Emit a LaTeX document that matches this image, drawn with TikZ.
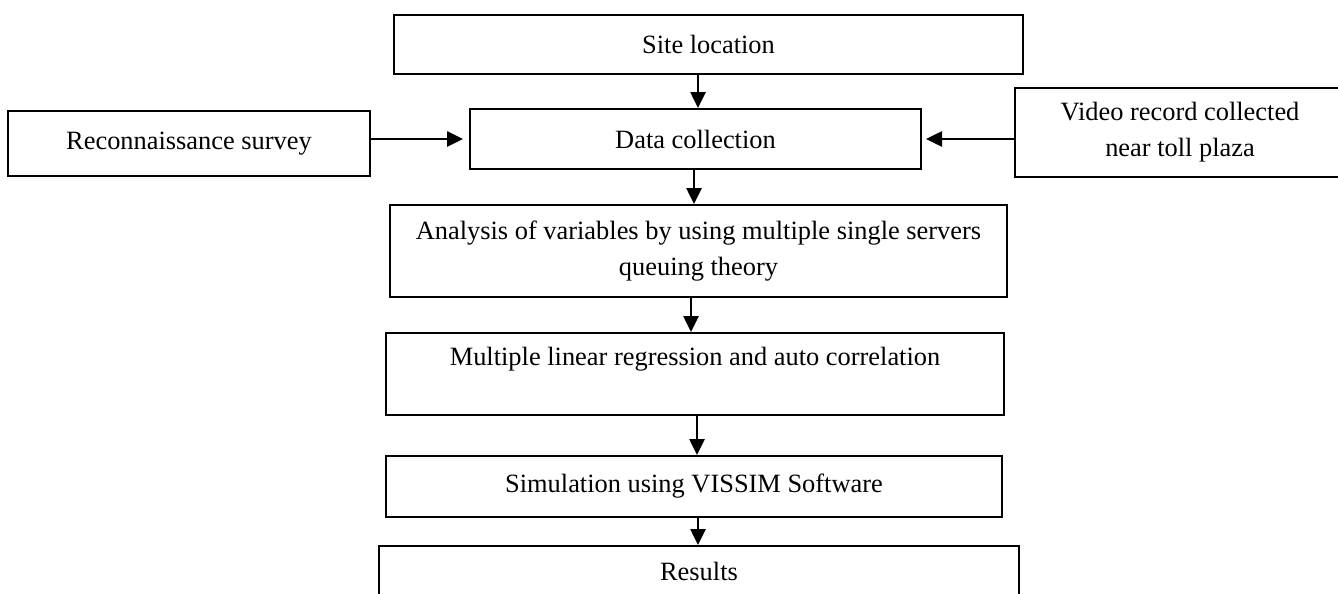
\documentclass[tikz,border=0pt]{standalone}
\usepackage{fontspec}
\setmainfont{Liberation Serif}
\usetikzlibrary{arrows.meta}

\begin{document}
\begin{tikzpicture}[x=0.5pt,y=-0.5pt,
    box/.style={draw,line width=1pt,inner sep=0pt,align=center,font=\fontsize{13.2}{18}\selectfont},
    arr/.style={line width=1.3pt,-{Triangle[length=8pt,width=7.5pt]}}]
            \useasboundingbox (0,0) rectangle (1338,594);
            \clip (0,0) rectangle (1338,594);
            \node[box,minimum width=314.5pt,minimum height=29.5pt] (site) at (708.5,44.5) {Site location};
            \node[box,minimum width=225.5pt,minimum height=30pt] (data) at (695.5,139) {Data collection};
            \node[box,minimum width=181pt,minimum height=32.5pt] (recon) at (189,143.5) {Reconnaissance survey};
            \node[box,minimum width=165pt,minimum height=44.5pt] (video) at (1180,132.5) {Video record collected\\near toll plaza};
            \node[box,minimum width=308.5pt,minimum height=46pt] (analysis) at (698.5,251) {Analysis of variables by using multiple single servers\\queuing theory};
            \node[box,minimum width=309pt,minimum height=41pt] (regress) at (695,374) {Multiple linear regression and auto correlation\\~};
            \node[box,minimum width=308pt,minimum height=30.5pt] (vissim) at (694,486.5) {Simulation using VISSIM Software};
            \node[box,minimum width=320pt,minimum height=25pt] (results) at (699,571) {Results};
            \draw[arr] (site.south -| 698,0) -- (data.north -| 698,0);
            \draw[arr,shorten >=3pt] (recon.east |- data.west) -- (data.west);
            \draw[arr,shorten >=2pt] (video.west |- data.east) -- (data.east);
            \draw[arr] (data.south -| 694,0) -- (analysis.north -| 694,0);
            \draw[arr] (analysis.south -| 691,0) -- (regress.north -| 691,0);
            \draw[arr] (regress.south -| 697,0) -- (vissim.north -| 697,0);
            \draw[arr] (vissim.south -| 698,0) -- (results.north -| 698,0);
        \end{tikzpicture}
\end{document}
